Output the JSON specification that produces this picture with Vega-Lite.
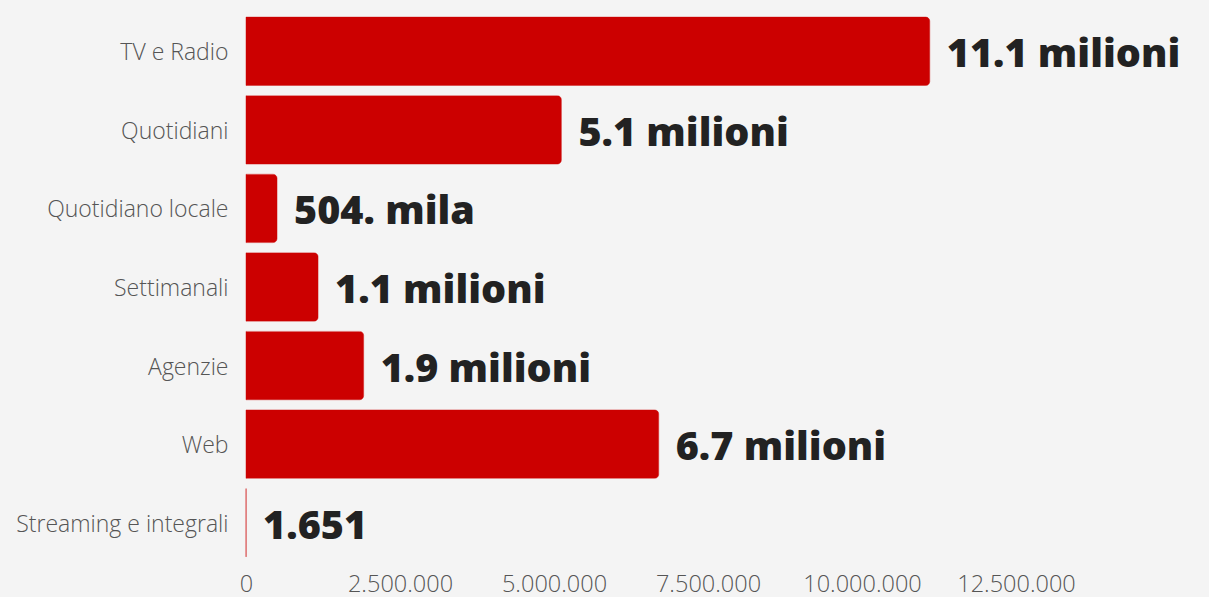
{
  "$schema": "https://vega.github.io/schema/vega-lite/v6.json",
  "width": 770,
  "height": 550,
  "autosize": {"type": "none"},
  "padding": {"left": 246, "top": 12, "right": 193, "bottom": 35},
  "background": "#f4f4f4",
  "config": {"view": {"stroke": null}},
  "data": {
    "values": [
      {"categoria": "TV e Radio", "valore": 11100000, "label": "11.1 milioni"},
      {"categoria": "Quotidiani", "valore": 5120000, "label": "5.1 milioni"},
      {"categoria": "Quotidiano locale", "valore": 504000, "label": "504. mila"},
      {"categoria": "Settimanali", "valore": 1170000, "label": "1.1 milioni"},
      {"categoria": "Agenzie", "valore": 1910000, "label": "1.9 milioni"},
      {"categoria": "Web", "valore": 6700000, "label": "6.7 milioni"},
      {"categoria": "Streaming e integrali", "valore": 1651, "label": "1.651"}
    ]
  },
  "encoding": {
    "y": {
      "field": "categoria",
      "type": "nominal",
      "sort": null,
      "scale": {"paddingInner": 0.13, "paddingOuter": 0.065},
      "axis": {
        "title": null,
        "domain": false,
        "ticks": false,
        "labelPadding": 18,
        "labelOffset": 2,
        "labelFont": "Open Sans",
        "labelFontWeight": 300,
        "labelFontSize": 23,
        "labelColor": "#555555",
        "labelLimit": 300
      }
    },
    "x": {
      "field": "valore",
      "type": "quantitative",
      "scale": {"domain": [0, 12500000], "nice": false},
      "axis": {
        "title": null,
        "domain": false,
        "ticks": false,
        "grid": false,
        "values": [0, 2500000, 5000000, 7500000, 10000000, 12500000],
        "labelExpr": "replace(format(datum.value, ','), /,/g, '.')",
        "labelPadding": 10,
        "labelFont": "Open Sans",
        "labelFontWeight": 300,
        "labelFontSize": 23.5,
        "labelColor": "#555555",
        "labelFlush": false,
        "labelOverlap": false
      }
    }
  },
  "layer": [
    {
      "mark": {"type": "bar", "color": "#cc0000", "cornerRadiusEnd": 4, "stroke": "#cc0000", "strokeWidth": 1, "strokeOpacity": 0.45},
      "encoding": {}
    },
    {
      "mark": {
        "type": "text",
        "align": "left",
        "baseline": "middle",
        "dx": 17,
        "dy": 4,
        "font": "Open Sans",
        "fontWeight": 800,
        "fontSize": 39.5,
        "color": "#222222",
        "clip": false
      },
      "encoding": {"text": {"field": "label"}}
    }
  ]
}
